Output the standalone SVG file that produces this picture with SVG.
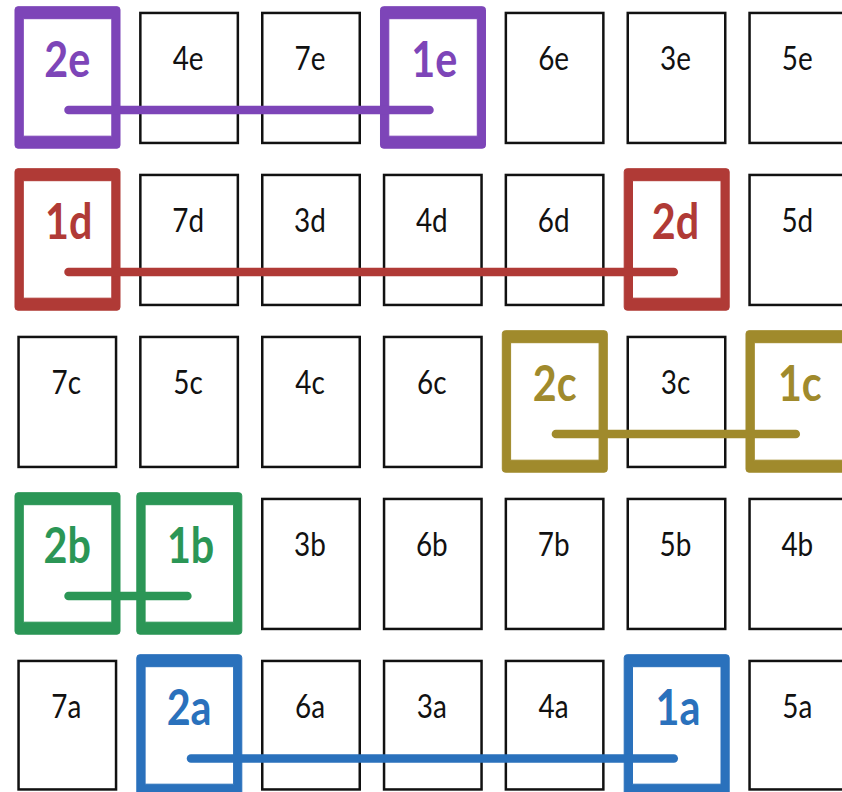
<svg xmlns="http://www.w3.org/2000/svg" xmlns:xlink="http://www.w3.org/1999/xlink" width="842" height="792" viewBox="0 0 842 792">
<defs>
<style>
.box{fill:#fff;stroke:#111;stroke-width:2.5}
.lbl{font-family:Lato,"Liberation Sans",sans-serif;font-size:31px;fill:#111;text-anchor:middle}
.hl{font-family:Lato,"Liberation Sans",sans-serif;font-size:43px;font-weight:bold;text-anchor:middle}
.conn{stroke-width:8.5;stroke-linecap:round;fill:none}
.purple{fill:#7D45B8;stroke:#7D45B8}
.red{fill:#B03A36;stroke:#B03A36}
.olive{fill:#A08A2C;stroke:#A08A2C}
.green{fill:#2B9656;stroke:#2B9656}
.blue{fill:#2A71BC;stroke:#2A71BC}
text.purple,text.red,text.olive,text.green,text.blue,use{stroke:none}
</style>
<path id="frame" fill-rule="evenodd" d="M0.7,-5 H99.7 Q102.7,-5 102.7,-2 V133.5 Q102.7,136.5 99.7,136.5 H0.7 Q-2.3,136.5 -2.3,133.5 V-2 Q-2.3,-5 0.7,-5 Z M6,7 V124.5 H94.5 V7 Z"/>
</defs>
<rect width="842" height="792" fill="#fff"/>

<!-- Row e -->
<g id="n2e"><use href="#frame" transform="translate(17.3,11.7)" class="purple"/><text class="hl purple" transform="translate(67.3,76.7) scale(0.96,1.15)">2e</text></g>
<g id="n4e"><rect class="box" x="140.35" y="12.95" width="97.5" height="130"/><text class="lbl" transform="translate(188.1,70) scale(0.9,1.08)">4e</text></g>
<g id="n7e"><rect class="box" x="262.25" y="12.95" width="97.5" height="130"/><text class="lbl" transform="translate(310,70) scale(0.9,1.08)">7e</text></g>
<g id="n1e"><use href="#frame" transform="translate(382.8,11.7)" class="purple"/><text class="hl purple" transform="translate(434.3,76.7) scale(0.96,1.15)">1e</text></g>
<g id="n6e"><rect class="box" x="505.85" y="12.95" width="97.5" height="130"/><text class="lbl" transform="translate(553.6,70) scale(0.9,1.08)">6e</text></g>
<g id="n3e"><rect class="box" x="627.75" y="12.95" width="97.5" height="130"/><text class="lbl" transform="translate(675.5,70) scale(0.9,1.08)">3e</text></g>
<g id="n5e"><rect class="box" x="749.55" y="12.95" width="97.5" height="130"/><text class="lbl" transform="translate(797.3,70) scale(0.9,1.08)">5e</text></g>

<!-- Row d -->
<g id="n1d"><use href="#frame" transform="translate(17.3,173.7)" class="red"/><text class="hl red" transform="translate(68.8,238.7) scale(0.96,1.15)">1d</text></g>
<g id="n7d"><rect class="box" x="140.35" y="174.95" width="97.5" height="130"/><text class="lbl" transform="translate(188.1,232) scale(0.9,1.08)">7d</text></g>
<g id="n3d"><rect class="box" x="262.25" y="174.95" width="97.5" height="130"/><text class="lbl" transform="translate(310,232) scale(0.9,1.08)">3d</text></g>
<g id="n4d"><rect class="box" x="384.05" y="174.95" width="97.5" height="130"/><text class="lbl" transform="translate(431.8,232) scale(0.9,1.08)">4d</text></g>
<g id="n6d"><rect class="box" x="505.85" y="174.95" width="97.5" height="130"/><text class="lbl" transform="translate(553.6,232) scale(0.9,1.08)">6d</text></g>
<g id="n2d"><use href="#frame" transform="translate(626.5,173.7)" class="red"/><text class="hl red" transform="translate(675.5,238.7) scale(0.96,1.15)">2d</text></g>
<g id="n5d"><rect class="box" x="749.55" y="174.95" width="97.5" height="130"/><text class="lbl" transform="translate(797.3,232) scale(0.9,1.08)">5d</text></g>

<!-- Row c -->
<g id="n7c"><rect class="box" x="18.55" y="336.95" width="97.5" height="130"/><text class="lbl" transform="translate(66.3,394) scale(0.9,1.08)">7c</text></g>
<g id="n5c"><rect class="box" x="140.35" y="336.95" width="97.5" height="130"/><text class="lbl" transform="translate(188.1,394) scale(0.9,1.08)">5c</text></g>
<g id="n4c"><rect class="box" x="262.25" y="336.95" width="97.5" height="130"/><text class="lbl" transform="translate(310,394) scale(0.9,1.08)">4c</text></g>
<g id="n6c"><rect class="box" x="384.05" y="336.95" width="97.5" height="130"/><text class="lbl" transform="translate(431.8,394) scale(0.9,1.08)">6c</text></g>
<g id="n2c"><use href="#frame" transform="translate(504.6,335.7)" class="olive"/><text class="hl olive" transform="translate(554.6,400.7) scale(0.96,1.15)">2c</text></g>
<g id="n3c"><rect class="box" x="627.75" y="336.95" width="97.5" height="130"/><text class="lbl" transform="translate(675.5,394) scale(0.9,1.08)">3c</text></g>
<g id="n1c"><use href="#frame" transform="translate(748.3,335.7)" class="olive"/><text class="hl olive" transform="translate(799.8,400.7) scale(0.96,1.15)">1c</text></g>

<!-- Row b -->
<g id="n2b"><use href="#frame" transform="translate(17.3,497.7)" class="green"/><text class="hl green" transform="translate(67.3,562.7) scale(0.96,1.15)">2b</text></g>
<g id="n1b"><use href="#frame" transform="translate(139.1,497.7)" class="green"/><text class="hl green" transform="translate(190.6,562.7) scale(0.96,1.15)">1b</text></g>
<g id="n3b"><rect class="box" x="262.25" y="498.95" width="97.5" height="130"/><text class="lbl" transform="translate(310,556) scale(0.9,1.08)">3b</text></g>
<g id="n6b"><rect class="box" x="384.05" y="498.95" width="97.5" height="130"/><text class="lbl" transform="translate(431.8,556) scale(0.9,1.08)">6b</text></g>
<g id="n7b"><rect class="box" x="505.85" y="498.95" width="97.5" height="130"/><text class="lbl" transform="translate(553.6,556) scale(0.9,1.08)">7b</text></g>
<g id="n5b"><rect class="box" x="627.75" y="498.95" width="97.5" height="130"/><text class="lbl" transform="translate(675.5,556) scale(0.9,1.08)">5b</text></g>
<g id="n4b"><rect class="box" x="749.55" y="498.95" width="97.5" height="130"/><text class="lbl" transform="translate(797.3,556) scale(0.9,1.08)">4b</text></g>

<!-- Row a -->
<g id="n7a"><rect class="box" x="18.55" y="660.95" width="97.5" height="128.5"/><text class="lbl" transform="translate(66.3,718) scale(0.9,1.08)">7a</text></g>
<g id="n2a"><use href="#frame" transform="translate(139.1,659.7)" class="blue"/><text class="hl blue" transform="translate(189.1,724.7) scale(0.96,1.15)">2a</text></g>
<g id="n6a"><rect class="box" x="262.25" y="660.95" width="97.5" height="128.5"/><text class="lbl" transform="translate(310,718) scale(0.9,1.08)">6a</text></g>
<g id="n3a"><rect class="box" x="384.05" y="660.95" width="97.5" height="128.5"/><text class="lbl" transform="translate(431.8,718) scale(0.9,1.08)">3a</text></g>
<g id="n4a"><rect class="box" x="505.85" y="660.95" width="97.5" height="128.5"/><text class="lbl" transform="translate(553.6,718) scale(0.9,1.08)">4a</text></g>
<g id="n1a"><use href="#frame" transform="translate(626.5,659.7)" class="blue"/><text class="hl blue" transform="translate(678,724.7) scale(0.96,1.15)">1a</text></g>
<g id="n5a"><rect class="box" x="749.55" y="660.95" width="97.5" height="128.5"/><text class="lbl" transform="translate(797.3,718) scale(0.9,1.08)">5a</text></g>

<g id="connectors">
<line class="conn purple" x1="68.5" y1="110" x2="429.5" y2="110"/>
<line class="conn red" x1="68.5" y1="272" x2="673.8" y2="272"/>
<line class="conn olive" x1="555.9" y1="434" x2="795.8" y2="434"/>
<line class="conn green" x1="68.5" y1="596" x2="187.4" y2="596"/>
<line class="conn blue" x1="191" y1="758.5" x2="673.8" y2="758.5"/>
</g>
</svg>
